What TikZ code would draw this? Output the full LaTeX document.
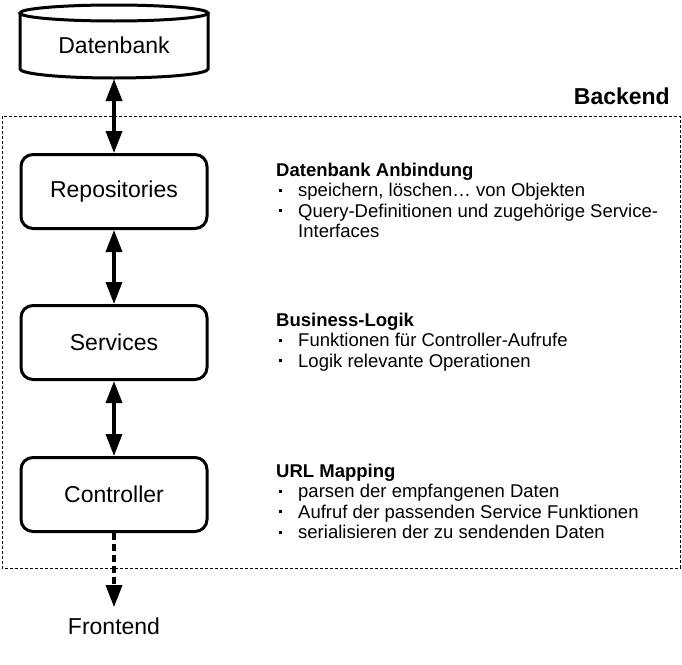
\documentclass[tikz,border=0pt]{standalone}
\usepackage{fontspec}
\setmainfont{Liberation Sans}
\usetikzlibrary{arrows.meta}
\newcommand{\blt}{\makebox[19pt][l]{\rule[5pt]{2.6pt}{2.6pt}}}
\tikzset{
  box/.style={draw, line width=3pt, rounded corners=12pt, minimum width=186pt, minimum height=74pt, font=\fontsize{23}{27}\selectfont, fill=white},
  dbl/.style={line width=3.5pt, {Triangle[width=16pt,length=22pt]}-{Triangle[width=16pt,length=22pt]}},
  dashedarrow/.style={line width=3.5pt, dash pattern=on 7pt off 4pt, -{Triangle[width=16pt,length=22pt]}},
  desc/.style={anchor=base west, inner sep=0pt, font=\fontsize{18.5}{21}\selectfont},
  head/.style={anchor=base west, inner sep=0pt, font=\fontsize{18.5}{21}\selectfont\bfseries},
  big/.style={font=\fontsize{23}{27}\selectfont},
}
\begin{document}
\begin{tikzpicture}[x=1pt,y=1pt]
\useasboundingbox (0,0) rectangle (682,-664);
% backend frame
\draw[line width=1pt, dash pattern=on 3pt off 2pt] (2,-116) rectangle (680,-568);
\node[big, font=\fontsize{23}{27}\selectfont\bfseries, anchor=base east, inner sep=0pt] (backend) at (670,-104) {Backend};
% database cylinder
\draw[line width=3pt, fill=white] (20,-13) -- (20,-69) arc[start angle=180, end angle=360, x radius=94, y radius=9] -- (208,-13);
\draw[line width=3pt] (114,-13) ellipse [x radius=94, y radius=8];
\node[big] (db) at (114,-45) {Datenbank};
\coordinate (dbb) at (114,-79);
% boxes
\node[box] (rep) at (114,-191.5) {Repositories};
\node[box] (ser) at (114,-342.5) {Services};
\node[box] (con) at (114,-494.5) {Controller};
\node[big, anchor=base, inner sep=0pt, inner ysep=10pt] (fe) at (114,-634) {Frontend};
% connectors
\draw[dbl] (dbb) -- (rep.north);
\draw[dbl] (rep.south) -- (ser.north);
\draw[dbl] (ser.south) -- (con.north);
\draw[dashedarrow] (con.south) -- (fe.north);
% descriptions
\node[head] (h1) at (276,-176) {Datenbank Anbindung};
\node[desc] (h1a) at (279,-196.5) {\blt speichern, löschen… von Objekten};
\node[desc] (h1b) at (279,-217) {\blt Query-Definitionen und zugehörige Service-};
\node[desc] (h1c) at (298,-237.5) {Interfaces};
\node[head] (h2) at (276,-326) {Business-Logik};
\node[desc] (h2a) at (279,-346.5) {\blt Funktionen für Controller-Aufrufe};
\node[desc] (h2b) at (279,-367) {\blt Logik relevante Operationen};
\node[head] (h3) at (276,-477) {URL Mapping};
\node[desc] (h3a) at (279,-497.5) {\blt parsen der empfangenen Daten};
\node[desc] (h3b) at (279,-518) {\blt Aufruf der passenden Service Funktionen};
\node[desc] (h3c) at (279,-538.5) {\blt serialisieren der zu sendenden Daten};
\end{tikzpicture}
\end{document}
